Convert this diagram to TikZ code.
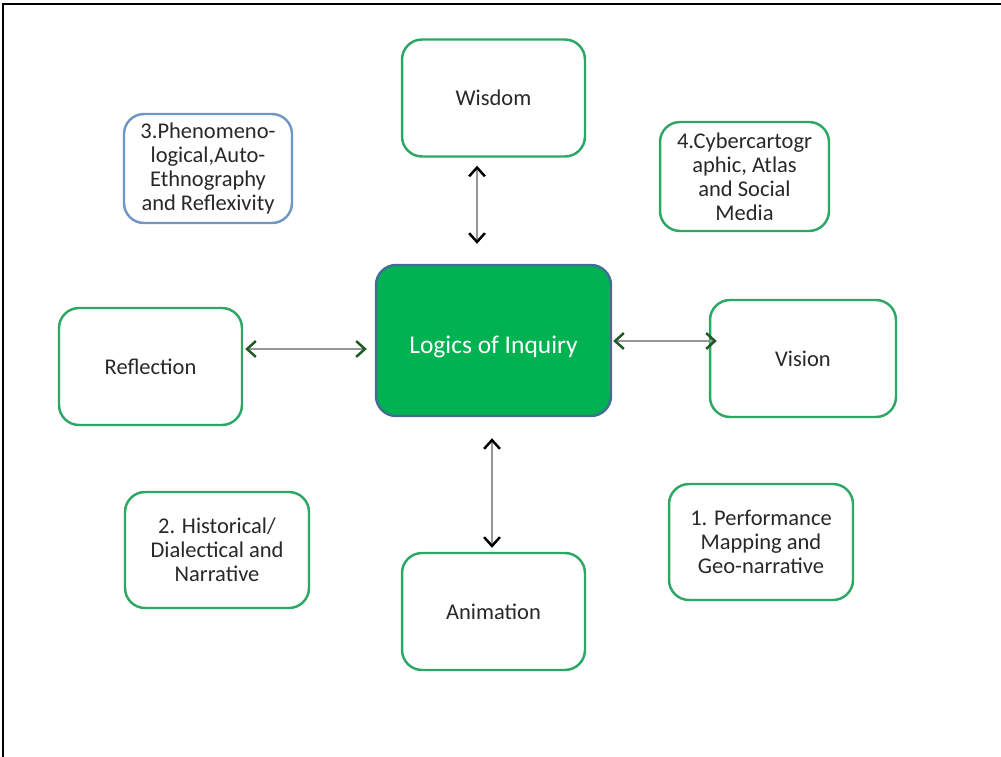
\documentclass[tikz,border=0pt]{standalone}
\usepackage{fontspec}
\setmainfont{Carlito}
\usetikzlibrary{arrows.meta}
\definecolor{boxgreen}{RGB}{44,168,100}
\definecolor{hubfill}{RGB}{0,178,82}
\definecolor{hubline}{RGB}{66,110,150}
\definecolor{phenline}{RGB}{112,150,198}
\definecolor{linkgray}{RGB}{150,150,150}
\definecolor{tipgreen}{RGB}{30,90,35}
\definecolor{inktext}{RGB}{40,40,40}
\tikzset{x=0.02cm, y=-0.02cm,
    idea/.style={draw=boxgreen, line width=1.4pt, rounded corners=0.4cm,
        fill=white, text=inktext, align=center, font=\fontsize{12.8}{13.6}\selectfont,
        minimum width=3.66cm, minimum height=2.34cm, inner sep=2pt},
    hub/.style={idea, draw=hubline, fill=hubfill, text=white,
        font=\fontsize{14.5}{16}\selectfont, text height=0.56cm, text depth=0.05cm,
        minimum width=4.7cm, minimum height=3.02cm},
    vlink/.style={draw=linkgray, line width=1.3pt,
        {Straight Barb[length=5pt,width=9pt,line width=1.4pt,color=black]}-{Straight Barb[length=5pt,width=9pt,line width=1.4pt,color=black]}},
    hlink/.style={vlink,
        {Straight Barb[length=5pt,width=9pt,line width=1.4pt,color=tipgreen]}-{Straight Barb[length=5pt,width=9pt,line width=1.4pt,color=tipgreen]}},
    }
\begin{document}
\begin{tikzpicture}
	\useasboundingbox (0,0) rectangle (1001,757);
	\draw[line width=1.2pt] (3,757) -- (3,4) -- (1001,4);
	% centre
	\node[hub] (logics) at (493.5,340.5) {Logics of Inquiry};
	% four directions
	\node[idea] (wisdom) at (493.5,98) {Wisdom};
	\node[idea] (reflection) at (150.5,366.5) {Reflection};
	\node[idea, minimum width=3.72cm] (vision) at (803,358.5) {Vision};
	\node[idea] (animation) at (493.5,611.5) {Animation};
	% the four logics
	\node[idea, draw=phenline, minimum width=3.36cm, minimum height=2.18cm]
		(phenomeno) at (208,168.5) {3.Phenomeno-\\logical,Auto-\\Ethnography\\and Reflexivity};
	\node[idea, minimum width=3.38cm, minimum height=2.18cm]
		(cyber) at (744.5,176.5) {4.Cybercartogr\\aphic, Atlas\\and Social\\Media};
	\node[idea, minimum width=3.68cm, minimum height=2.32cm]
		(historical) at (217,550) {2. Historical/\\Dialectical and\\Narrative};
	\node[idea, minimum width=3.68cm, minimum height=2.32cm]
		(performance) at (761,542) {1. Performance\\Mapping and\\Geo-narrative};
	% links
	\draw[vlink, shorten <=0.16cm, shorten >=0.4cm]
		(wisdom.south -| 477,0) -- (logics.north -| 477,0);
	\draw[vlink, shorten <=0.42cm, shorten >=0.08cm]
		(logics.south -| 492,0) -- (animation.north -| 492,0);
	\draw[hlink, shorten <=0.04cm, shorten >=0.16cm]
		(reflection.east |- 0,349) -- (logics.west |- 0,349);
	\draw[hlink, shorten <=0.02cm, shorten >=-0.16cm]
		(logics.east |- 0,341) -- (vision.west |- 0,341);
\end{tikzpicture}
\end{document}
